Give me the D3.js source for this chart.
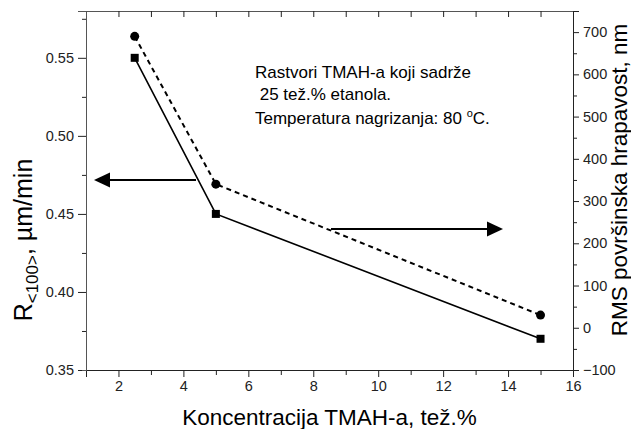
<!DOCTYPE html>
<html>
<head>
<meta charset="utf-8">
<script src="https://cdn.jsdelivr.net/npm/d3@7"></script>
<style>
  body { margin: 0; background: #fff; }
  svg { font-family: Arial, "Liberation Sans", sans-serif; }
</style>
</head>
<body>
<svg id="chart" width="631" height="429"></svg>
<script>
// data
var concentration = [2.5, 5, 15];          // TMAH, tez.%
var etchRate = [0.55, 0.45, 0.37];         // R<100>, um/min (left axis)
var roughness = [690, 340, 30];            // RMS, nm (right axis)

var xTicks = [2, 4, 6, 8, 10, 12, 14, 16];
var xMinor = [1, 3, 5, 7, 9, 11, 13, 15];
var leftTicks = [0.35, 0.40, 0.45, 0.50, 0.55];
var leftMinor = [0.375, 0.425, 0.475, 0.525, 0.575];
var rightTicks = [-100, 0, 100, 200, 300, 400, 500, 600, 700];
var rightMinor = [-50, 50, 150, 250, 350, 450, 550, 650, 750];

var noteLines = ["Rastvori TMAH-a koji sadrže", " 25 tež.% etanola."];

// plot box (note: "top" is taken by window.top)
var plotL = 86, plotR = 573, plotT = 11, plotB = 370;

var svg = d3.select("#chart");

var x = d3.scaleLinear().domain([1, 16]).range([plotL, plotR]);
var yL = d3.scaleLinear().domain([0.35, 0.58]).range([plotB, plotT]);
var yR = d3.scaleLinear().domain([-100, 750]).range([plotB, plotT]);

function styleAxis(g) {
    g.selectAll("path").attr("stroke", "#222");
    g.selectAll("line").attr("stroke", "#222");
    g.selectAll("text").attr("fill", "#222").attr("font-size", 14.5);
}

// bottom axis
svg.append("g")
    .attr("transform", "translate(0," + plotB + ")")
    .call(d3.axisBottom(x).tickValues(xTicks).tickSize(7).tickPadding(4).tickFormat(d3.format("d")))
    .call(styleAxis);
svg.append("g")
    .attr("transform", "translate(0," + plotB + ")")
    .call(d3.axisBottom(x).tickValues(xMinor).tickSize(5).tickFormat(""))
    .call(styleAxis);

// top axis, ticks inward
svg.append("g")
    .attr("transform", "translate(0," + plotT + ")")
    .call(d3.axisBottom(x).tickValues(xTicks.concat(xMinor)).tickSizeInner(6).tickSizeOuter(0).tickFormat(""))
    .call(styleAxis)
    .select("path").attr("stroke", "#555");

// left axis
svg.append("g")
    .attr("transform", "translate(" + plotL + ",0)")
    .call(d3.axisLeft(yL).tickValues(leftTicks).tickSize(8).tickPadding(4).tickFormat(d3.format(".2f")))
    .call(styleAxis)
    .select("path").attr("stroke", "#555");
svg.append("g")
    .attr("transform", "translate(" + plotL + ",0)")
    .call(d3.axisLeft(yL).tickValues(leftMinor).tickSize(4).tickFormat(""))
    .call(styleAxis)
    .select("path").attr("stroke", "#555");

// right axis
svg.append("g")
    .attr("transform", "translate(" + plotR + ",0)")
    .call(d3.axisRight(yR).tickValues(rightTicks).tickSize(6).tickPadding(4).tickFormat(d3.format("d")))
    .call(styleAxis);
svg.append("g")
    .attr("transform", "translate(" + plotR + ",0)")
    .call(d3.axisRight(yR).tickValues(rightMinor).tickSize(4).tickFormat(""))
    .call(styleAxis);

// series
var pts1 = concentration.map(function(c, i) { return [c, etchRate[i]]; });
var pts2 = concentration.map(function(c, i) { return [c, roughness[i]]; });

svg.append("path")
    .datum(pts1)
    .attr("fill", "none")
    .attr("stroke", "#000")
    .attr("stroke-width", 1.6)
    .attr("d", d3.line().x(function(d) { return x(d[0]); }).y(function(d) { return yL(d[1]); }));

svg.append("path")
    .datum(pts2)
    .attr("fill", "none")
    .attr("stroke", "#000")
    .attr("stroke-width", 2)
    .attr("stroke-dasharray", "5,4")
    .attr("d", d3.line().x(function(d) { return x(d[0]); }).y(function(d) { return yR(d[1]); }));

svg.selectAll("rect.sq")
    .data(pts1)
    .enter().append("rect")
    .attr("class", "sq")
    .attr("x", function(d) { return x(d[0]) - 4; })
    .attr("y", function(d) { return yL(d[1]) - 4; })
    .attr("width", 8)
    .attr("height", 8)
    .attr("fill", "#000");

svg.selectAll("circle.ci")
    .data(pts2)
    .enter().append("circle")
    .attr("class", "ci")
    .attr("cx", function(d) { return x(d[0]); })
    .attr("cy", function(d) { return yR(d[1]); })
    .attr("r", 4.5)
    .attr("fill", "#000");

// arrows
function arrow(x1, x2, y) {
    var dir = x2 > x1 ? 1 : -1;
    svg.append("line")
        .attr("x1", x1).attr("x2", x2 - dir * 14)
        .attr("y1", y).attr("y2", y)
        .attr("stroke", "#000").attr("stroke-width", 2);
    svg.append("path")
        .attr("d", "M" + x2 + "," + y + "L" + (x2 - dir * 16) + "," + (y - 7.5) + "L" + (x2 - dir * 16) + "," + (y + 7.5) + "Z")
        .attr("fill", "#000");
}
arrow(196, 94, 180);
arrow(331, 503, 229);

// note text
svg.selectAll("text.note")
    .data(noteLines)
    .enter().append("text")
    .attr("class", "note")
    .attr("x", 255)
    .attr("y", function(d, i) { return 78 + i * 22; })
    .attr("font-size", 17)
    .attr("xml:space", "preserve")
    .style("white-space", "pre")
    .text(function(d) { return d; });

var temp = svg.append("text")
    .attr("x", 255).attr("y", 124)
    .attr("font-size", 17);
temp.append("tspan").text("Temperatura nagrizanja: 80 ");
temp.append("tspan").attr("font-size", 11).attr("dy", -7).text("o");
temp.append("tspan").attr("dy", 7).text("C.");

// axis titles
svg.append("text")
    .attr("x", (plotL + plotR) / 2 + 0)
    .attr("y", 425)
    .attr("text-anchor", "middle")
    .attr("font-size", 22.5)
    .text("Koncentracija TMAH-a, tež.%");

var lt = svg.append("text")
    .attr("transform", "translate(32,240) rotate(-90)")
    .attr("text-anchor", "middle")
    .attr("font-size", 25);
lt.append("tspan").text("R");
lt.append("tspan").attr("font-size", 17).attr("dy", 6).text("<100>");
lt.append("tspan").attr("dy", -6).text(", µm/min");

svg.append("text")
    .attr("transform", "translate(627,180) rotate(-90)")
    .attr("text-anchor", "middle")
    .attr("font-size", 22.5)
    .text("RMS površinska hrapavost, nm");
</script>
</body>
</html>
